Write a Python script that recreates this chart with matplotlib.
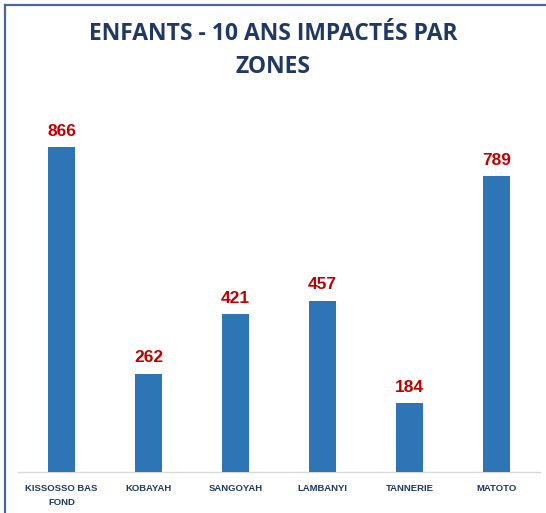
import matplotlib
matplotlib.use("Agg")
import matplotlib.pyplot as plt
import numpy as np

zones = ['KISSOSSO BAS\nFOND', 'KOBAYAH', 'SANGOYAH', 'LAMBANYI', 'TANNERIE', 'MATOTO']
values = [866, 262, 421, 457, 184, 789]

C_BAR = '#2E75B6'
C_TEXT = '#1F3864'
C_VAL = '#C00000'

fig = plt.figure(figsize=(5.46, 5.13), dpi=100)
ax = fig.add_axes([0.033, 0.080, 0.956, 0.725])

x = np.arange(len(zones))
ax.bar(x, values, width=0.32, color=C_BAR, zorder=3)

for xi, v in zip(x, values):
    ax.text(xi, v + 22, f'{v}', ha='center', va='bottom', color=C_VAL,
            fontsize=12.5, fontweight='bold', family='Liberation Sans')

ax.set_xlim(-0.5, len(zones) - 0.5)
ax.set_ylim(0, 992)
ax.set_xticks(x)
ax.set_xticklabels(zones, fontsize=6.8, fontweight='bold', color=C_TEXT,
                   family='Liberation Sans', linespacing=1.6)
ax.tick_params(axis='x', length=0, pad=9)
ax.set_yticks([])
for s in ['top', 'right', 'left']:
    ax.spines[s].set_visible(False)
ax.spines['bottom'].set_color('#D9D9D9')
ax.spines['bottom'].set_linewidth(1)

fig.text(0.5, 0.902, 'ENFANTS - 10 ANS IMPACTÉS PAR\nZONES', ha='center', va='center',
         fontsize=16.5, fontweight='bold', color=C_TEXT, family='Open Sans',
         linespacing=1.5)

# frame lines on left and top
fig.add_artist(plt.Line2D([5 / 546, 5 / 546], [0, 1 - 5 / 513], transform=fig.transFigure,
                          color='#4A6791', lw=1.6))
fig.add_artist(plt.Line2D([5 / 546, 1], [1 - 5 / 513, 1 - 5 / 513], transform=fig.transFigure,
                          color='#4A6791', lw=1.6))

fig.savefig('out.png', dpi=100)
